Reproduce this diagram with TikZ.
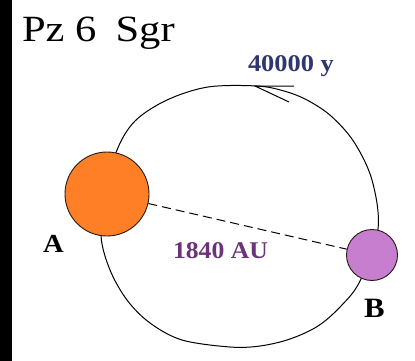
\documentclass[tikz,border=0pt]{standalone}
\usepackage{fontspec}
\setmainfont{Liberation Serif}
\definecolor{orangeA}{RGB}{255,127,39}
\definecolor{purpleB}{RGB}{200,126,206}
\definecolor{navytxt}{RGB}{48,54,110}
\definecolor{purpletxt}{RGB}{108,52,120}
\definecolor{rimcol}{RGB}{40,25,20}
\begin{document}
\begin{tikzpicture}[x=1pt,y=-1pt,
  orbitline/.style={line width=1pt,black},
  star/.style={circle,draw=rimcol,line width=0.9pt,inner sep=0pt},
  lbl/.style={anchor=base west,inner sep=0pt,outer sep=0pt},
  distline/.style={line width=1pt,black,dash pattern=on 9pt off 5pt}]
\useasboundingbox (0,0) rectangle (415,361);
\fill[white] (0,0) rectangle (415,361);
\fill[black] (0,0) rectangle (12,361);
% orbit
\draw[orbitline] plot[smooth cycle,tension=0.55] coordinates {
 (105,194) (117,150) (135,121) (167,100) (208,87) (257,86) (284,91)
 (307,100) (331,116) (354,142) (372,180) (378,229) (360,281)
 (341,306) (318,326) (290,339) (260,346) (230,347) (182,340) (150,323) (127,300)
 (110,270) (101,236)};
% arrowhead
\coordinate (arrtip) at (255,86);
\coordinate (arrb1) at (294,86);
\coordinate (arrb2) at (289,102);
\draw[orbitline] (arrb1) -- (arrtip) -- (arrb2);
% stars
\node[star,fill=orangeA,minimum size=84pt] (A) at (107,194) {};
\node[star,fill=purpleB,minimum size=51pt] (B) at (372,255) {};
\draw[distline] (A) -- (B);
% labels
\node[lbl] (title) at (22,42) {\fontsize{37}{40}\selectfont\scalebox{1.15}[1]{Pz 6\hspace{0.45em}Sgr}};
\node[lbl,text=navytxt] (period) at (248,72) {\fontsize{24}{26}\selectfont\bfseries\scalebox{1.1}[1]{40000 y}};
\node[lbl,text=purpletxt] (dist) at (173,258) {\fontsize{24}{26}\selectfont\bfseries\scalebox{1.07}[1]{1840 AU}};
\node[lbl] (labA) at (43,252) {\fontsize{26}{28}\selectfont\bfseries\scalebox{1.1}[1]{A}};
\node[lbl] (labB) at (364,317) {\fontsize{28}{30}\selectfont\bfseries\scalebox{1.1}[1]{B}};
\end{tikzpicture}
\end{document}
